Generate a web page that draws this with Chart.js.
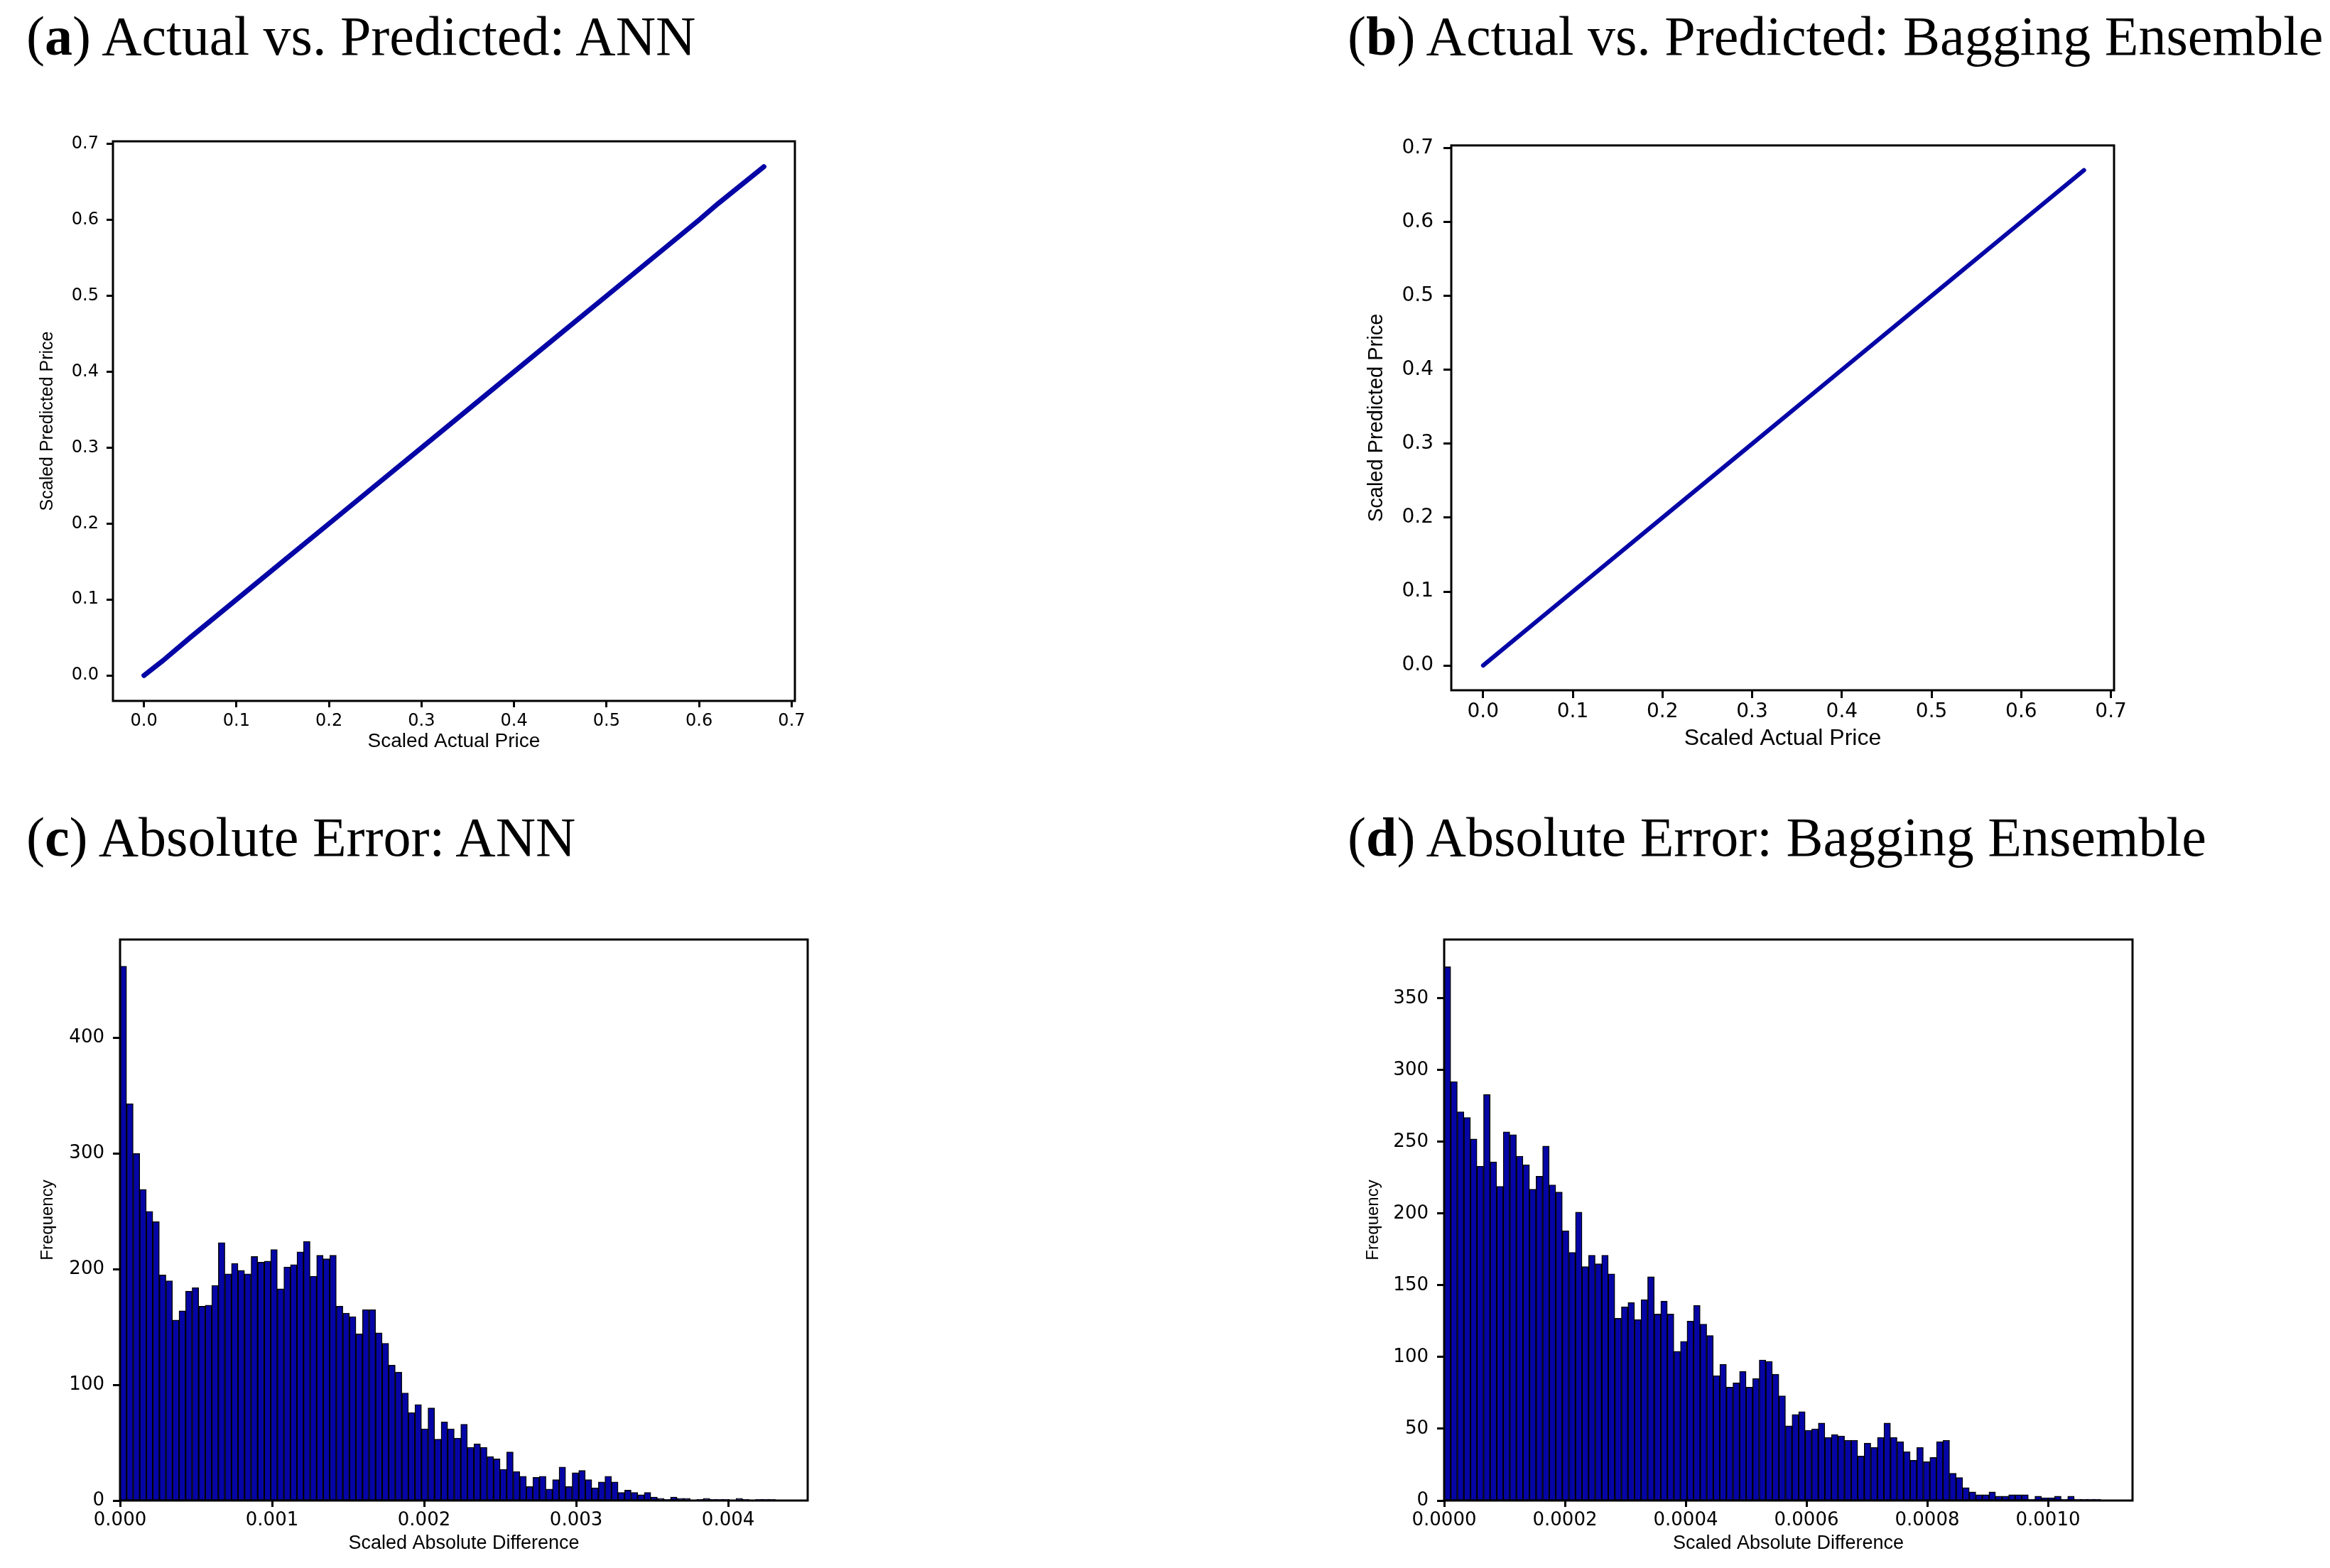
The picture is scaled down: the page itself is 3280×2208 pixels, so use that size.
<!DOCTYPE html>
<html>
<head>
<meta charset="utf-8">
<title>Actual vs. Predicted and Absolute Error</title>
<script src="https://cdn.jsdelivr.net/npm/chart.js"></script>
<style>
  body { margin: 0; background: #fff; }
  #page { position: relative; width: 3280px; height: 2208px; overflow: hidden; background: #fff; }
  .panel-title { position: absolute; font-family: "Liberation Serif", serif; font-size: 78px; line-height: 78px; white-space: nowrap; color: #000; }
  canvas { position: absolute; }
</style>
</head>
<body>
<div id="page">
  <div class="panel-title" style="left:37px; top:12px">(<b>a</b>) Actual vs. Predicted: ANN</div>
  <div class="panel-title" style="left:1897px; top:12px">(<b>b</b>) Actual vs. Predicted: Bagging Ensemble</div>
  <div class="panel-title" style="left:37px; top:1140px">(<b>c</b>) Absolute Error: ANN</div>
  <div class="panel-title" style="left:1897px; top:1140px">(<b>d</b>) Absolute Error: Bagging Ensemble</div>

  <canvas id="chartA" width="1107" height="892" style="left:52px; top:169px; width:1107px; height:892px"></canvas>
  <canvas id="chartB" width="1095" height="885" style="left:1921px; top:174px; width:1095px; height:885px"></canvas>
  <canvas id="chartC" width="1124" height="897" style="left:53px; top:1293px; width:1124px; height:897px"></canvas>
  <canvas id="chartD" width="1123" height="897" style="left:1919px; top:1293px; width:1123px; height:897px"></canvas>
</div>

<script>
  // actual vs predicted (scaled prices)
  var annActual    = [0.0, 0.02, 0.05, 0.10, 0.15, 0.20, 0.25, 0.30, 0.35, 0.40, 0.45, 0.50, 0.55, 0.60, 0.62, 0.67];
  var annPredicted = [0.0, 0.019, 0.05, 0.10, 0.15, 0.20, 0.25, 0.30, 0.35, 0.40, 0.45, 0.50, 0.55, 0.60, 0.621, 0.67];
  var bagActual    = [0.0, 0.10, 0.20, 0.30, 0.40, 0.50, 0.60, 0.67];
  var bagPredicted = [0.0, 0.10, 0.20, 0.30, 0.40, 0.50, 0.60, 0.67];

  var priceTicks = [0, 0.1, 0.2, 0.3, 0.4, 0.5, 0.6, 0.7];
  var priceTickLabels = ['0.0', '0.1', '0.2', '0.3', '0.4', '0.5', '0.6', '0.7'];

  // histogram of absolute error, ANN (100 bins)
  var annBinWidth = 0.0000431;
  var annErrorCounts = [
    462, 343, 300, 269, 250, 241, 195, 190, 156, 164,
    181, 184, 168, 169, 186, 223, 196, 205, 199, 196,
    211, 206, 207, 217, 183, 202, 204, 215, 224, 194,
    212, 209, 212, 168, 162, 159, 144, 165, 165, 145,
    136, 117, 111, 93, 76, 83, 62, 80, 53, 68,
    62, 54, 66, 46, 49, 46, 38, 36, 27, 42,
    25, 21, 12, 20, 21, 10, 18, 29, 12, 24,
    26, 18, 11, 16, 21, 16, 7, 9, 7, 5,
    7, 3, 2, 1, 3, 2, 2, 0, 1, 2,
    1, 1, 1, 0, 2, 1, 0, 1, 1, 1
  ];
  var annErrorTicks = [0, 0.001, 0.002, 0.003, 0.004];
  var annErrorTickLabels = ['0.000', '0.001', '0.002', '0.003', '0.004'];
  var annFreqTicks = [0, 100, 200, 300, 400];
  var annFreqTickLabels = ['0', '100', '200', '300', '400'];

  // histogram of absolute error, bagging ensemble (100 bins)
  var bagBinWidth = 0.00001087;
  var bagErrorCounts = [
    372, 292, 271, 267, 252, 233, 283, 236, 219, 257,
    255, 240, 234, 217, 226, 247, 220, 215, 188, 173,
    201, 163, 171, 165, 171, 158, 127, 135, 138, 126,
    140, 156, 130, 139, 130, 104, 111, 125, 136, 123,
    115, 87, 95, 79, 82, 90, 79, 85, 98, 97,
    88, 73, 52, 60, 62, 49, 50, 54, 44, 46,
    45, 42, 42, 31, 40, 37, 44, 54, 44, 41,
    34, 28, 37, 27, 30, 41, 42, 19, 16, 9,
    6, 4, 4, 6, 3, 3, 4, 4, 4, 1,
    3, 2, 2, 3, 1, 3, 1, 1, 1, 1
  ];
  var bagErrorTicks = [0, 0.0002, 0.0004, 0.0006, 0.0008, 0.0010];
  var bagErrorTickLabels = ['0.0000', '0.0002', '0.0004', '0.0006', '0.0008', '0.0010'];
  var bagFreqTicks = [0, 50, 100, 150, 200, 250, 300, 350];
  var bagFreqTickLabels = ['0', '50', '100', '150', '200', '250', '300', '350'];

  var blue = '#0505a6';

  // matplotlib style box around the plot area
  var framePlugin = {
    id: 'frame',
    afterDatasetsDraw: function(chart) {
      var a = chart.chartArea;
      var ctx = chart.ctx;
      ctx.save();
      ctx.strokeStyle = '#000';
      ctx.lineWidth = 3;
      ctx.strokeRect(a.left, a.top, a.right - a.left, a.bottom - a.top);
      ctx.restore();
    }
  };

  function axisOptions(a, horizontal) {
    return {
      type: 'linear',
      position: horizontal ? 'bottom' : 'left',
      min: a.min,
      max: a.max,
      offset: false,
      grid: {
        display: true, offset: false, drawOnChartArea: false, drawTicks: true,
        tickLength: a.tick, tickWidth: 3, tickColor: '#000'
      },
      border: { display: false },
      ticks: {
        autoSkip: false, maxRotation: 0, padding: a.pad, color: '#000',
        font: { family: '"DejaVu Sans", sans-serif', size: a.font },
        callback: function(v, i) { return a.labels[i]; }
      },
      afterBuildTicks: function(s) {
        s.ticks = a.values.map(function(v) { return { value: v }; });
      },
      afterFit: function(s) {
        if (horizontal) { s.height = a.size; } else { s.width = a.size; }
      },
      title: {
        display: true, text: a.title, color: '#000', padding: 0,
        font: { family: '"Liberation Sans", Arial, sans-serif', size: a.titleSize }
      }
    };
  }

  function buildChart(id, type, datasets, xAxis, yAxis) {
    return new Chart(document.getElementById(id), {
      type: type,
      data: { datasets: datasets },
      options: {
        responsive: false,
        animation: false,
        devicePixelRatio: 1,
        layout: { padding: { top: 30, right: 40, bottom: 0, left: 0 } },
        plugins: { legend: { display: false }, tooltip: { enabled: false } },
        scales: { x: axisOptions(xAxis, true), y: axisOptions(yAxis, false) }
      },
      plugins: [framePlugin]
    });
  }

  function pairs(xs, ys) {
    return xs.map(function(x, i) { return { x: x, y: ys[i] }; });
  }

  function histPoints(counts, width) {
    return counts.map(function(c, i) { return { x: (i + 0.5) * width, y: c }; });
  }

  function lineSet(xs, ys, w) {
    return {
      data: pairs(xs, ys), showLine: true, borderColor: blue, borderWidth: w,
      borderCapStyle: 'round', pointRadius: 0, fill: false, tension: 0
    };
  }

  function barSet(counts, width) {
    return {
      data: histPoints(counts, width), backgroundColor: blue, borderColor: '#000',
      borderWidth: 1.4, borderSkipped: false, barPercentage: 1, categoryPercentage: 1, grouped: false
    };
  }

  buildChart('chartA', 'scatter', [lineSet(annActual, annPredicted, 7)],
    { min: -0.0335, max: 0.7035, values: priceTicks, labels: priceTickLabels, tick: 9, pad: 5, font: 24, size: 74, title: 'Scaled Actual Price', titleSize: 28 },
    { min: -0.0335, max: 0.7035, values: priceTicks, labels: priceTickLabels, tick: 9, pad: 11, font: 24, size: 107, title: 'Scaled Predicted Price', titleSize: 25 });

  buildChart('chartB', 'scatter', [lineSet(bagActual, bagPredicted, 6)],
    { min: -0.0355, max: 0.7035, values: priceTicks, labels: priceTickLabels, tick: 11, pad: 3, font: 28, size: 87, title: 'Scaled Actual Price', titleSize: 32 },
    { min: -0.0335, max: 0.7035, values: priceTicks, labels: priceTickLabels, tick: 11, pad: 14, font: 28, size: 122, title: 'Scaled Predicted Price', titleSize: 29 });

  buildChart('chartC', 'bar', [barSet(annErrorCounts, annBinWidth)],
    { min: 0, max: 0.004523, values: annErrorTicks, labels: annErrorTickLabels, tick: 9, pad: 4, font: 26, size: 77, title: 'Scaled Absolute Difference', titleSize: 27 },
    { min: 0, max: 485, values: annFreqTicks, labels: annFreqTickLabels, tick: 10, pad: 12, font: 26, size: 116, title: 'Frequency', titleSize: 24 });

  buildChart('chartD', 'bar', [barSet(bagErrorCounts, bagBinWidth)],
    { min: 0, max: 0.00114, values: bagErrorTicks, labels: bagErrorTickLabels, tick: 9, pad: 4, font: 26, size: 77, title: 'Scaled Absolute Difference', titleSize: 27 },
    { min: 0, max: 391, values: bagFreqTicks, labels: bagFreqTickLabels, tick: 10, pad: 12, font: 26, size: 114, title: 'Frequency', titleSize: 24 });
</script>
</body>
</html>
